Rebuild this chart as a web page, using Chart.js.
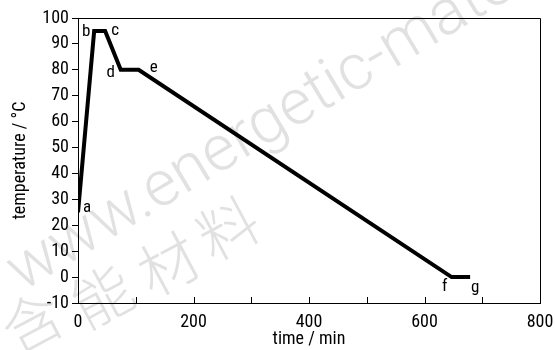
<!DOCTYPE html>
<html>
<head>
<meta charset="utf-8">
<script src="https://cdn.jsdelivr.net/npm/chart.js@4"></script>
<style>
  html, body { margin: 0; padding: 0; background: #fff; }
  #wrap { width: 555px; height: 350px; }
</style>
</head>
<body>
<div id="wrap"><canvas id="chart"></canvas></div>
<script>
// temperature profile (time in min, temperature in °C)
const times = [0, 28, 47, 74, 105, 647, 679];
const temps = [25, 95, 95, 80, 80, 0, 0];
const pointNames = ['a', 'b', 'c', 'd', 'e', 'f', 'g'];
const xTicks = [0, 200, 400, 600, 800];
const xMinorTicks = [100, 300, 500, 700];

// pick a narrow sans if one is installed
function hasFont(spec, base) {
  const c = document.createElement('canvas').getContext('2d');
  const s = 'temperature / 0123456789';
  c.font = base; const w0 = c.measureText(s).width;
  c.font = spec; return c.measureText(s).width !== w0;
}
let FONT = "'Liberation Sans', Arial, sans-serif";
let STYLE = 'normal';
if (hasFont("18px 'Liberation Sans Narrow', monospace", '18px monospace')) {
  FONT = "'Liberation Sans Narrow', sans-serif";
} else if (hasFont("18px 'Arial Narrow', monospace", '18px monospace')) {
  FONT = "'Arial Narrow', sans-serif";
} else if (hasFont("condensed 18px 'Liberation Sans'", "18px 'Liberation Sans'")) {
  STYLE = 'condensed';
} else if (hasFont("18px 'Roboto Condensed', monospace", '18px monospace')) {
  FONT = "'Roboto Condensed', sans-serif";
} else if (hasFont("18px 'DejaVu Sans Condensed', monospace", '18px monospace')) {
  FONT = "'DejaVu Sans Condensed', sans-serif";
}
const font = size => ({ family: FONT, size: size, style: STYLE });

// label offsets from each point, in px
const labelOffsets = [[9, -5], [-8, 1], [10, 0], [-10, 3], [15, -2], [-7, 10], [5, 11]];

const decor = {
  id: 'decor',
  beforeDraw(chart) {
    const ctx = chart.ctx;
    ctx.save();
    ctx.fillStyle = '#fff';
    ctx.fillRect(0, 0, chart.width, chart.height);
    // watermark
    ctx.fillStyle = 'rgba(205,205,205,0.6)';
    ctx.font = "300 64px Roboto, 'DejaVu Sans', sans-serif";
    ctx.translate(22, 292);
    ctx.rotate(-31 * Math.PI / 180);
    ctx.fillText('www.energetic-materials.org.cn', 0, 0);
    ctx.restore();
    ctx.save();
    ctx.fillStyle = 'rgba(205,205,205,0.6)';
    ctx.font = "300 60px 'Noto Sans CJK SC', sans-serif";
    ctx.textAlign = 'center';
    ctx.textBaseline = 'middle';
    [['含', 32, 322], ['能', 102, 296], ['材', 168, 264], ['料', 228, 228]].forEach(([ch, cx, cy]) => {
      ctx.save();
      ctx.translate(cx, cy);
      ctx.rotate(-28 * Math.PI / 180);
      ctx.fillText(ch, 0, 0);
      ctx.restore();
    });
    ctx.restore();
  },
  afterDraw(chart) {
    const ctx = chart.ctx;
    const a = chart.chartArea;
    const x = chart.scales.x;
    ctx.save();
    ctx.strokeStyle = '#000';
    ctx.lineWidth = 1;
    ctx.beginPath();
    ctx.moveTo(a.left, a.top + 0.5);
    ctx.lineTo(a.right + 0.5, a.top + 0.5);
    ctx.lineTo(a.right + 0.5, a.bottom);
    ctx.stroke();
    // inward x ticks
    ctx.beginPath();
    xTicks.concat(xMinorTicks).forEach(v => {
      const px = Math.round(x.getPixelForValue(v)) + 0.5;
      ctx.moveTo(px, a.bottom);
      ctx.lineTo(px, a.bottom - 6);
    });
    ctx.stroke();
    // point labels
    const meta = chart.getDatasetMeta(0);
    ctx.fillStyle = '#000';
    ctx.font = STYLE + ' 17px ' + FONT;
    ctx.textAlign = 'center';
    ctx.textBaseline = 'middle';
    meta.data.forEach((pt, i) => {
      ctx.fillText(pointNames[i], pt.x + labelOffsets[i][0], pt.y + labelOffsets[i][1]);
    });
    ctx.restore();
  }
};

new Chart(document.getElementById('chart'), {
  type: 'line',
  data: {
    datasets: [{
      data: times.map((t, i) => ({ x: t, y: temps[i] })),
      borderColor: '#000',
      borderWidth: 4,
      pointRadius: 0,
      tension: 0,
      borderJoinStyle: 'miter'
    }]
  },
  options: {
    responsive: true,
    maintainAspectRatio: false,
    animation: false,
    layout: { padding: { top: 18, right: 15, left: 0, bottom: 0 } },
    plugins: { legend: { display: false }, tooltip: { enabled: false } },
    scales: {
      x: {
        type: 'linear',
        min: 0,
        max: 800,
        afterBuildTicks: s => { s.ticks = xTicks.map(v => ({ value: v })); },
        grid: { display: false, drawTicks: false },
        border: { color: '#000', width: 1 },
        ticks: { color: '#000', font: font(18), padding: 9, maxRotation: 0 },
        title: { display: true, text: 'time / min', color: '#000', font: font(18), padding: { top: 0, bottom: 0 } },
        afterFit: s => { s.height = 47; s.paddingLeft = 0; s.paddingRight = 0; }
      },
      y: {
        min: -10,
        max: 100,
        ticks: { stepSize: 10, color: '#000', font: font(18), padding: 3 },
        grid: { drawOnChartArea: false, tickLength: 6, tickColor: '#000' },
        border: { color: '#000', width: 1 },
        title: { display: true, text: 'temperature / °C', color: '#000', font: font(18), padding: { top: 10, bottom: 0 } },
        afterFit: s => { s.width = 78; s.paddingTop = 0; s.paddingBottom = 0; }
      }
    }
  },
  plugins: [decor]
});
</script>
</body>
</html>
